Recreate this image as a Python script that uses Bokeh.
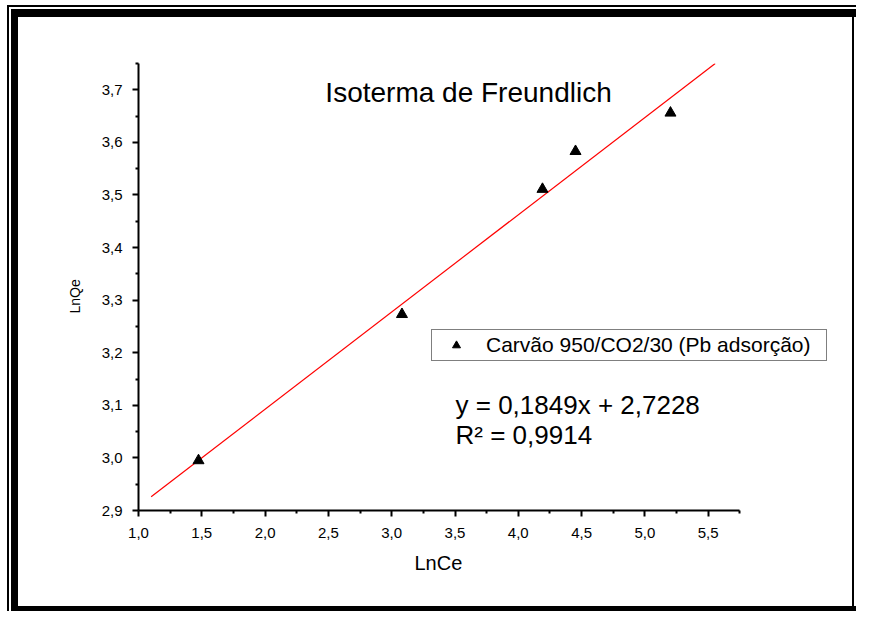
from bokeh.plotting import figure
from bokeh.models import Range1d, FixedTicker, Label, Legend, LegendItem, Title
from bokeh.embed import file_html
from bokeh.resources import INLINE

# ---- data ----
ln_ce = [1.474, 3.081, 4.191, 4.452, 5.202]
ln_qe = [2.995, 3.273, 3.511, 3.583, 3.656]
slope = 0.1849
intercept = 2.7228
fit_x = [1.1, 5.5555]
fit_y = [slope * v + intercept for v in fit_x]

x_ticks = [1.0, 1.5, 2.0, 2.5, 3.0, 3.5, 4.0, 4.5, 5.0, 5.5]
x_tick_labels = ["1,0", "1,5", "2,0", "2,5", "3,0", "3,5", "4,0", "4,5", "5,0", "5,5"]
x_minor = [1.25, 1.75, 2.25, 2.75, 3.25, 3.75, 4.25, 4.75, 5.25, 5.75]
y_ticks = [2.9, 3.0, 3.1, 3.2, 3.3, 3.4, 3.5, 3.6, 3.7]
y_tick_labels = ["2,9", "3,0", "3,1", "3,2", "3,3", "3,4", "3,5", "3,6", "3,7"]
y_minor = [2.95, 3.05, 3.15, 3.25, 3.35, 3.45, 3.55, 3.65, 3.75]
x_axis_span = (1.0, 5.75)
y_axis_span = (2.9, 3.75)

title_text = "Isoterma de Freundlich"
x_title = "LnCe"
y_title = "LnQe"
series_name = "Carvão 950/CO2/30 (Pb adsorção)"
eq_text = "y = 0,1849x + 2,7228"
r2_text = "R² = 0,9914"

FONT = "Liberation Sans"

# layout (pixels)
W, H = 856, 611
LEFT, TOP, BOTTOM_Y = 138, 63, 510
PX_PER_X = 126.6
x_view_end = x_axis_span[0] + (W - LEFT) / PX_PER_X

# double black page frame drawn as CSS background bars: (x, y, w, h)
bars = [
    (7, 5, 2, H - 5),
    (7, 5, W - 7, 2),
    (11, 9, 7, H - 9),
    (11, 9, W - 11, 8),
    (852, 17, 2, H - 17),
    (11, H - 5, W - 11, 5),
]
frame_styles = {
    "background-image": ", ".join(["linear-gradient(#000, #000)"] * len(bars)),
    "background-size": ", ".join(f"{w}px {h}px" for _, _, w, h in bars),
    "background-position": ", ".join(f"{x}px {y}px" for x, y, _, _ in bars),
    "background-repeat": "no-repeat",
    "background-color": "white",
}

p = figure(width=W, height=H, output_backend="svg", toolbar_location=None,
           x_range=Range1d(x_axis_span[0], x_view_end),
           y_range=Range1d(*y_axis_span),
           min_border_left=LEFT, min_border_right=0,
           min_border_top=TOP, min_border_bottom=H - BOTTOM_Y)
p.styles = frame_styles
p.outline_line_color = None
p.background_fill_alpha = 0
p.border_fill_alpha = 0
p.xgrid.visible = False
p.ygrid.visible = False

for ax, ticks, minor, labels, span in (
        (p.xaxis[0], x_ticks, x_minor, x_tick_labels, x_axis_span),
        (p.yaxis[0], y_ticks, y_minor, y_tick_labels, y_axis_span)):
    ax.ticker = FixedTicker(ticks=ticks, minor_ticks=minor)
    ax.bounds = span
    ax.major_label_overrides = {t: l for t, l in zip(ticks, labels)}
    ax.axis_line_width = 2
    ax.axis_line_color = "black"
    ax.major_tick_line_width = 2
    ax.minor_tick_line_width = 2
    ax.major_tick_in = 0
    ax.major_tick_out = 6
    ax.minor_tick_in = 0
    ax.minor_tick_out = 3
    ax.major_label_text_font = FONT
    ax.major_label_text_font_size = "15px"
    ax.major_label_text_color = "black"

p.xaxis[0].major_label_standoff = 11
p.yaxis[0].major_label_standoff = 10

# axis titles as side-panel titles, placed along the drawn axes
p.add_layout(Title(text=x_title, align="left", offset=276,
                   text_font=FONT, text_font_size="20px",
                   text_font_style="normal", text_color="black",
                   standoff=19), "below")
p.add_layout(Title(text=y_title, align="left", offset=197,
                   text_font=FONT, text_font_size="14px",
                   text_font_style="normal", text_color="black",
                   standoff=31), "left")

# fit line
p.line(fit_x, fit_y, line_color="#ff0000", line_width=1.2)
# data points
pts = p.scatter(ln_ce, ln_qe, marker="triangle", size=11,
                fill_color="black", line_color="black")

legend = Legend(items=[LegendItem(label=series_name, renderers=[pts])],
                location=(293, 149),
                label_text_font=FONT, label_text_font_size="21px",
                label_text_color="black",
                border_line_color="black", border_line_width=1,
                padding=3, spacing=0, margin=0,
                glyph_width=42, glyph_height=20, label_standoff=9,
                label_width=337,
                background_fill_color="white", background_fill_alpha=1)
p.add_layout(legend, "center")

p.add_layout(Label(x=3.607, y=3.6957, text=title_text, text_align="center",
                   text_baseline="alphabetic", text_font=FONT,
                   text_font_size="28px", text_color="black"))
p.add_layout(Label(x=3.504, y=3.1009, text=eq_text, text_align="left",
                   text_baseline="alphabetic", text_font=FONT,
                   text_font_size="26px", text_color="black"))
p.add_layout(Label(x=3.504, y=3.0442, text=r2_text, text_align="left",
                   text_baseline="alphabetic", text_font=FONT,
                   text_font_size="26px", text_color="black"))

open("out.html", "w").write(file_html(p, INLINE))
